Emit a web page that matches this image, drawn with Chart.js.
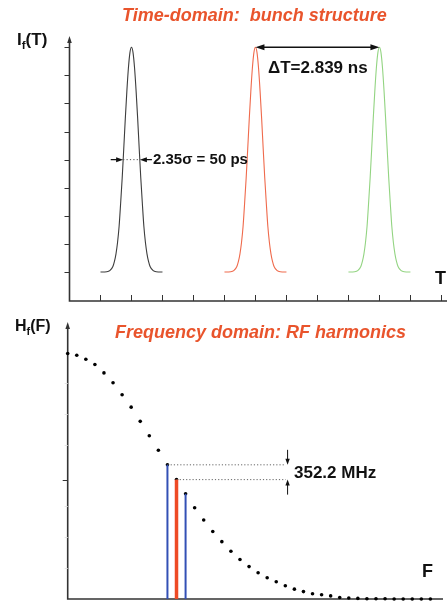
<!DOCTYPE html>
<html>
<head>
<meta charset="utf-8">
<script src="https://cdn.jsdelivr.net/npm/chart.js@4.4.1/dist/chart.umd.min.js"></script>
<style>
  html, body { margin: 0; padding: 0; background: #fff; }
  body { width: 447px; height: 603px; position: relative; overflow: hidden;
         font-family: "Liberation Sans", Arial, Helvetica, sans-serif; }
  canvas { position: absolute; left: 0; }
  #timeChart { top: 0; }
  #freqChart { top: 305px; }
  .lbl { position: absolute; white-space: nowrap; line-height: 1; font-weight: bold; color: #111; }
  .ttl { color: #e9542c; font-style: italic; font-size: 18px; }
  .lbl .sub { font-size: 0.68em; position: relative; top: 0.35em; }
</style>
</head>
<body>
<canvas id="timeChart" width="447" height="305"></canvas>
<canvas id="freqChart" width="447" height="298"></canvas>

<div class="lbl ttl" style="left:122px;top:6px;">Time-domain:&nbsp; bunch structure</div>
<div class="lbl" style="left:17px;top:31px;font-size:17px;">I<span class="sub">f</span>(T)</div>
<div class="lbl" style="left:268px;top:59px;font-size:17px;">&Delta;T=2.839 ns</div>
<div class="lbl" style="left:153px;top:151px;font-size:15px;">2.35&sigma; = 50 ps</div>
<div class="lbl" style="left:435px;top:269px;font-size:18px;">T</div>

<div class="lbl" style="left:15px;top:318px;font-size:16px;">H<span class="sub">f</span>(F)</div>
<div class="lbl ttl" style="left:115px;top:323px;">Frequency domain: RF harmonics</div>
<div class="lbl" style="left:294px;top:464px;font-size:17px;">352.2 MHz</div>
<div class="lbl" style="left:422px;top:562px;font-size:18px;">F</div>

<script>
// --- time domain (units: one x tick, one y tick) ---
const timeTicksX = [1, 2, 3, 4, 5, 6, 7, 8, 9, 10, 11, 12];
const timeTicksY = [0, 1, 2, 3, 4, 5, 6, 7, 8];
const bunchCenters = [2, 6, 10];
const bunchColors = ['#3d3d3d', '#ef6a4c', '#93d482'];
const pulseOffsets = [0, 0.05, 0.1, 0.15, 0.2, 0.25, 0.3, 0.35, 0.4, 0.45, 0.5, 0.55, 0.6, 0.7, 0.8, 1.0];
const pulseHeights = [8.0, 7.81, 7.25, 6.42, 5.45, 4.38, 3.35, 2.45, 1.62, 1.05, 0.65, 0.38, 0.2, 0.05, 0.01, 0];

// --- frequency domain (harmonic number, amplitude) ---
const harmonicIndex = [0, 1, 2, 3, 4, 5, 6, 7, 8, 9, 10, 11, 12, 13, 14, 15, 16, 17, 18, 19, 20,
  21, 22, 23, 24, 25, 26, 27, 28, 29, 30, 31, 32, 33, 34, 35, 36, 37, 38, 39, 40];
const harmonicAmp = [7.96, 7.9, 7.77, 7.6, 7.33, 7.01, 6.62, 6.22, 5.76, 5.29, 4.82,
  4.35, 3.87, 3.41, 2.96, 2.56, 2.19, 1.86, 1.55, 1.28, 1.05,
  0.85, 0.69, 0.56, 0.43, 0.32, 0.24, 0.17, 0.14, 0.1, 0.05,
  0.03, 0.02, 0.01, 0.01, 0.01, 0, 0, 0, 0, 0];
const lineIndex = [11, 12, 13];
const lineColors = ['#3350b5', '#ee4a25', '#3350b5'];
const lineWidths = [2, 3.5, 2];
const freqTicksY = [1, 2, 3, 5, 6, 7];
const freqMarkY = 3.87;
const spacingEnd = 24.05;

function drawArrow(ctx, x, y, angle, len, half) {
  ctx.save();
  ctx.translate(x, y);
  ctx.rotate(angle);
  ctx.beginPath();
  ctx.moveTo(0, 0);
  ctx.lineTo(-len, -half);
  ctx.lineTo(-len, half);
  ctx.closePath();
  ctx.fill();
  ctx.restore();
}

function pulseData(center) {
  const pts = [];
  for (let i = pulseOffsets.length - 1; i > 0; i--) pts.push({ x: center - pulseOffsets[i], y: pulseHeights[i] });
  for (let i = 0; i < pulseOffsets.length; i++) pts.push({ x: center + pulseOffsets[i], y: pulseHeights[i] });
  return pts;
}

const timeAxes = {
  id: 'timeAxes',
  beforeDatasetsDraw(chart) {
    const { ctx, scales: { x, y } } = chart;
    const x0 = x.getPixelForValue(0);
    const yb = y.getPixelForValue(y.min);
    const yt = y.getPixelForValue(y.max);
    ctx.save();
    ctx.strokeStyle = '#333';
    ctx.fillStyle = '#333';
    ctx.lineWidth = 1.6;
    ctx.beginPath();
    ctx.moveTo(x0, yb); ctx.lineTo(x0, yt + 5);
    ctx.moveTo(x0 - 0.8, yb); ctx.lineTo(x.right, yb);
    ctx.stroke();
    drawArrow(ctx, x0, yt, -Math.PI / 2, 7, 2.3);
    ctx.lineWidth = 1;
    ctx.beginPath();
    timeTicksY.forEach(v => {
      const py = Math.round(y.getPixelForValue(v)) + 0.5;
      ctx.moveTo(x0 - 5, py); ctx.lineTo(x0, py);
    });
    timeTicksX.forEach(v => {
      const px = Math.round(x.getPixelForValue(v)) + 0.5;
      ctx.moveTo(px, yb); ctx.lineTo(px, yb - 6);
    });
    ctx.stroke();
    ctx.restore();
  },
  afterDatasetsDraw(chart) {
    const { ctx, scales: { x, y } } = chart;
    ctx.save();
    ctx.strokeStyle = '#111';
    ctx.fillStyle = '#111';
    // bunch spacing
    const py = y.getPixelForValue(8);
    const xa = x.getPixelForValue(bunchCenters[1]);
    const xb = x.getPixelForValue(bunchCenters[2]);
    ctx.lineWidth = 1.5;
    ctx.beginPath(); ctx.moveTo(xa + 4, py); ctx.lineTo(xb - 4, py); ctx.stroke();
    drawArrow(ctx, xa, py, Math.PI, 9, 3);
    drawArrow(ctx, xb, py, 0, 9, 3);
    // bunch length
    const ph = y.getPixelForValue(4);
    const l0 = x.getPixelForValue(1.33), l1 = x.getPixelForValue(1.73);
    const r0 = x.getPixelForValue(2.66), r1 = x.getPixelForValue(2.27);
    ctx.lineWidth = 1.2;
    ctx.beginPath();
    ctx.moveTo(l0, ph); ctx.lineTo(l1 - 4, ph);
    ctx.moveTo(r0, ph); ctx.lineTo(r1 + 4, ph);
    ctx.stroke();
    drawArrow(ctx, l1, ph, 0, 7, 2.5);
    drawArrow(ctx, r1, ph, Math.PI, 7, 2.5);
    ctx.setLineDash([1.2, 2.2]);
    ctx.lineWidth = 1;
    ctx.strokeStyle = '#555';
    ctx.beginPath(); ctx.moveTo(l1, ph); ctx.lineTo(r1, ph); ctx.stroke();
    ctx.restore();
  }
};

new Chart(document.getElementById('timeChart'), {
  type: 'scatter',
  data: {
    datasets: bunchCenters.map((c, i) => ({
      data: pulseData(c),
      showLine: true,
      borderColor: bunchColors[i],
      borderWidth: 1.1,
      pointRadius: 0,
      cubicInterpolationMode: 'monotone',
      clip: false,
    })),
  },
  options: {
    responsive: false,
    animation: false,
    layout: { padding: { left: 69.5, right: 0, top: 36, bottom: 4 } },
    plugins: { legend: { display: false }, tooltip: { enabled: false } },
    scales: {
      x: { type: 'linear', display: false, min: 0, max: 12.18 },
      y: { type: 'linear', display: false, min: -1.03, max: 8.4 },
    },
  },
  plugins: [timeAxes],
});

const freqAxes = {
  id: 'freqAxes',
  beforeDatasetsDraw(chart) {
    const { ctx, scales: { x, y } } = chart;
    const x0 = x.getPixelForValue(0);
    const yb = y.getPixelForValue(0);
    const yt = y.getPixelForValue(y.max);
    ctx.save();
    ctx.strokeStyle = '#333';
    ctx.fillStyle = '#333';
    ctx.lineWidth = 1.6;
    ctx.beginPath();
    ctx.moveTo(x0, yb); ctx.lineTo(x0, yt + 5);
    ctx.moveTo(x0 - 0.8, yb); ctx.lineTo(x.right, yb);
    ctx.stroke();
    drawArrow(ctx, x0, yt, -Math.PI / 2, 7, 2.3);
    ctx.lineWidth = 1;
    ctx.strokeStyle = '#e2e2e2';
    ctx.beginPath();
    freqTicksY.forEach(v => {
      const py = Math.round(y.getPixelForValue(v)) + 0.5;
      ctx.moveTo(x0 - 3, py); ctx.lineTo(x0, py);
    });
    ctx.stroke();
    ctx.strokeStyle = '#333';
    ctx.beginPath();
    const pm = Math.round(y.getPixelForValue(freqMarkY)) + 0.5;
    ctx.moveTo(x0 - 5, pm); ctx.lineTo(x0, pm);
    ctx.stroke();
    ctx.restore();
  },
  afterDatasetsDraw(chart) {
    const { ctx, scales: { x, y } } = chart;
    ctx.save();
    ctx.strokeStyle = '#111';
    ctx.fillStyle = '#111';
    ctx.lineWidth = 1;
    const ax = x.getPixelForValue(spacingEnd + 0.2);
    const upTip = y.getPixelForValue(harmonicAmp[11]);
    const loTip = y.getPixelForValue(harmonicAmp[12]);
    ctx.beginPath();
    ctx.moveTo(ax, upTip - 15); ctx.lineTo(ax, upTip - 4);
    ctx.moveTo(ax, loTip + 15); ctx.lineTo(ax, loTip + 4);
    ctx.stroke();
    drawArrow(ctx, ax, upTip, Math.PI / 2, 6, 2.2);
    drawArrow(ctx, ax, loTip, -Math.PI / 2, 6, 2.2);
    ctx.restore();
  }
};

const freqDatasets = [];
lineIndex.forEach((k, i) => {
  freqDatasets.push({
    data: [{ x: k, y: 0 }, { x: k, y: harmonicAmp[k] }],
    showLine: true,
    borderColor: lineColors[i],
    borderWidth: lineWidths[i],
    pointRadius: 0,
    clip: false,
  });
});
lineIndex.slice(0, 2).forEach(k => {
  freqDatasets.push({
    data: [{ x: k, y: harmonicAmp[k] }, { x: spacingEnd, y: harmonicAmp[k] }],
    showLine: true,
    borderColor: '#666',
    borderWidth: 1,
    borderDash: [1.2, 2],
    pointRadius: 0,
    clip: false,
  });
});
freqDatasets.push({
  data: harmonicIndex.map((k, i) => ({ x: k, y: harmonicAmp[i] })),
  showLine: false,
  pointRadius: 1.8,
  pointBorderWidth: 0,
  pointBackgroundColor: '#000',
  clip: false,
});

new Chart(document.getElementById('freqChart'), {
  type: 'scatter',
  data: { datasets: freqDatasets },
  options: {
    responsive: false,
    animation: false,
    layout: { padding: { left: 67.7, right: 0, top: 17, bottom: 2.5 } },
    plugins: { legend: { display: false }, tooltip: { enabled: false } },
    scales: {
      x: { type: 'linear', display: false, min: 0, max: 41.39 },
      y: { type: 'linear', display: false, min: 0, max: 8.98 },
    },
  },
  plugins: [freqAxes],
});
</script>
</body>
</html>
